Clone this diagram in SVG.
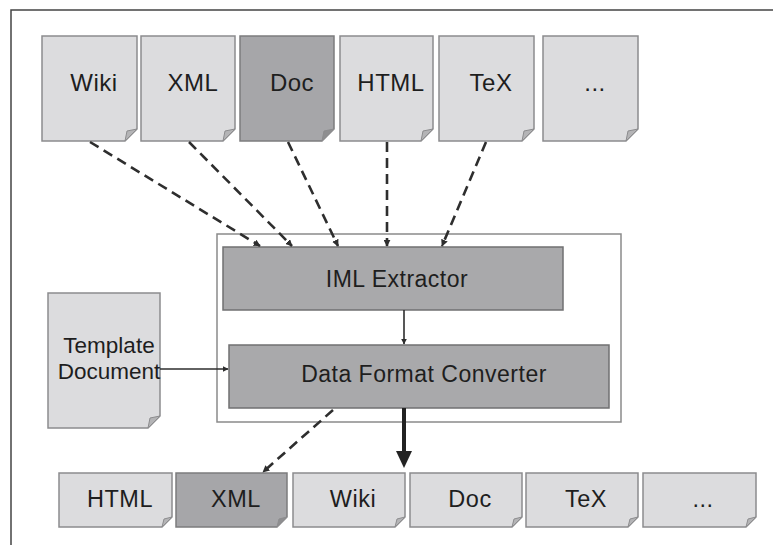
<svg xmlns="http://www.w3.org/2000/svg" width="773" height="545" viewBox="0 0 773 545">
<style>
.doc{fill:#dcdcde;stroke:#8c8c8e;stroke-width:1.5}
.docd{fill:#a6a6a9;stroke:#7c7c7e;stroke-width:1.5}
.fold{fill:#b4b4b6;stroke:#8c8c8e;stroke-width:1}
.proc{fill:#a9a9ab;stroke:#707072;stroke-width:1.5}
.t{font-family:"Liberation Sans",Arial,sans-serif;fill:#1e1e1e;text-anchor:middle;letter-spacing:0.5px}
.dash{fill:none;stroke:#2e2e2e;stroke-width:2.6;stroke-dasharray:10 6}
.solid{fill:none;stroke:#2e2e2e;stroke-width:1.6}
</style>
<defs>
<marker id="ah" viewBox="0 0 10 10" refX="9" refY="5" markerWidth="7" markerHeight="7" markerUnits="userSpaceOnUse" orient="auto">
<path d="M0,0 L10,5 L0,10 Z" fill="#2e2e2e"/>
</marker>
<marker id="ahs" viewBox="0 0 10 10" refX="9" refY="5" markerWidth="6" markerHeight="6" markerUnits="userSpaceOnUse" orient="auto">
<path d="M0,0 L10,5 L0,10 Z" fill="#2e2e2e"/>
</marker>
</defs>
<rect width="773" height="545" fill="#ffffff"/>
<path d="M11,545 V10 H773" fill="none" stroke="#444" stroke-width="1.5"/>

<g id="src-wiki"><path class="doc" d="M42,36 H137 V129 L125,141 H42 Z"/><path class="fold" d="M137,129 L125,141 L127,131 Z"/><text class="t" x="94" y="91" font-size="24">Wiki</text></g>
<g id="src-xml"><path class="doc" d="M141,36 H235 V129 L223,141 H141 Z"/><path class="fold" d="M235,129 L223,141 L225,131 Z"/><text class="t" x="193" y="91" font-size="24">XML</text></g>
<g id="src-doc"><path class="docd" d="M240,36 H334 V129 L322,141 H240 Z"/><path class="fold" d="M334,129 L322,141 L324,131 Z" style="fill:#8e8e90"/><text class="t" x="292" y="91" font-size="24">Doc</text></g>
<g id="src-html"><path class="doc" d="M340,36 H433 V129 L421,141 H340 Z"/><path class="fold" d="M433,129 L421,141 L423,131 Z"/><text class="t" x="391" y="91" font-size="24">HTML</text></g>
<g id="src-tex"><path class="doc" d="M439,36 H534 V129 L522,141 H439 Z"/><path class="fold" d="M534,129 L522,141 L524,131 Z"/><text class="t" x="491" y="91" font-size="24">TeX</text></g>
<g id="src-more"><path class="doc" d="M543,36 H638 V129 L626,141 H543 Z"/><path class="fold" d="M638,129 L626,141 L628,131 Z"/><text class="t" x="595" y="91" font-size="24">...</text></g>

<g id="container"><rect x="217" y="234" width="404" height="188" fill="#ffffff" stroke="#8a8a8a" stroke-width="1.5"/></g>
<g id="iml-extractor"><rect class="proc" x="223" y="247" width="340" height="63"/><text class="t" x="397" y="287" font-size="23">IML Extractor</text></g>
<g id="dfc"><rect class="proc" x="229" y="345" width="380" height="63"/><text class="t" x="424" y="382" font-size="23">Data Format Converter</text></g>

<g id="template"><path class="doc" d="M48,293 H160 V416 L148,428 H48 Z"/><path class="fold" d="M160,416 L148,428 L150,418 Z"/><text class="t" x="109" y="353" font-size="22.5" style="letter-spacing:0">Template</text><text class="t" x="109" y="379" font-size="22.5" style="letter-spacing:0">Document</text></g>

<g id="out-html"><path class="doc" d="M59,473 H172 V517 L162,527 H59 Z"/><path class="fold" d="M172,517 L162,527 L164,519 Z"/><text class="t" x="120" y="507" font-size="23.5">HTML</text></g>
<g id="out-xml"><path class="docd" d="M176,473 H287 V517 L277,527 H176 Z"/><path class="fold" d="M287,517 L277,527 L279,519 Z" style="fill:#8e8e90"/><text class="t" x="236" y="507" font-size="23.5">XML</text></g>
<g id="out-wiki"><path class="doc" d="M293,473 H405 V517 L395,527 H293 Z"/><path class="fold" d="M405,517 L395,527 L397,519 Z"/><text class="t" x="353" y="507" font-size="23.5">Wiki</text></g>
<g id="out-doc"><path class="doc" d="M410,473 H522 V517 L512,527 H410 Z"/><path class="fold" d="M522,517 L512,527 L514,519 Z"/><text class="t" x="470" y="507" font-size="23.5">Doc</text></g>
<g id="out-tex"><path class="doc" d="M526,473 H638 V517 L628,527 H526 Z"/><path class="fold" d="M638,517 L628,527 L630,519 Z"/><text class="t" x="586" y="507" font-size="23.5">TeX</text></g>
<g id="out-more"><path class="doc" d="M643,473 H756 V517 L746,527 H643 Z"/><path class="fold" d="M756,517 L746,527 L748,519 Z"/><text class="t" x="703" y="507" font-size="23.5">...</text></g>

<g id="connectors">
<path class="dash" d="M90,142 L260,246" marker-end="url(#ah)"/>
<path class="dash" d="M189,142 L292,246" marker-end="url(#ah)"/>
<path class="dash" d="M288,142 L338,246" marker-end="url(#ah)"/>
<path class="dash" d="M387,142 L387,246" marker-end="url(#ah)"/>
<path class="dash" d="M486,142 L442,246" marker-end="url(#ah)"/>
<path class="solid" d="M160,369 L228,369" marker-end="url(#ahs)"/>
<path class="solid" d="M404,310 L404,344" marker-end="url(#ahs)"/>
<path class="dash" d="M333,410 L263,472" marker-end="url(#ah)"/>
<path d="M404,408 L404,452" stroke="#222" stroke-width="4" fill="none"/>
<path d="M396,451 L412,451 L404,468 Z" fill="#222"/>
</g>
</svg>
